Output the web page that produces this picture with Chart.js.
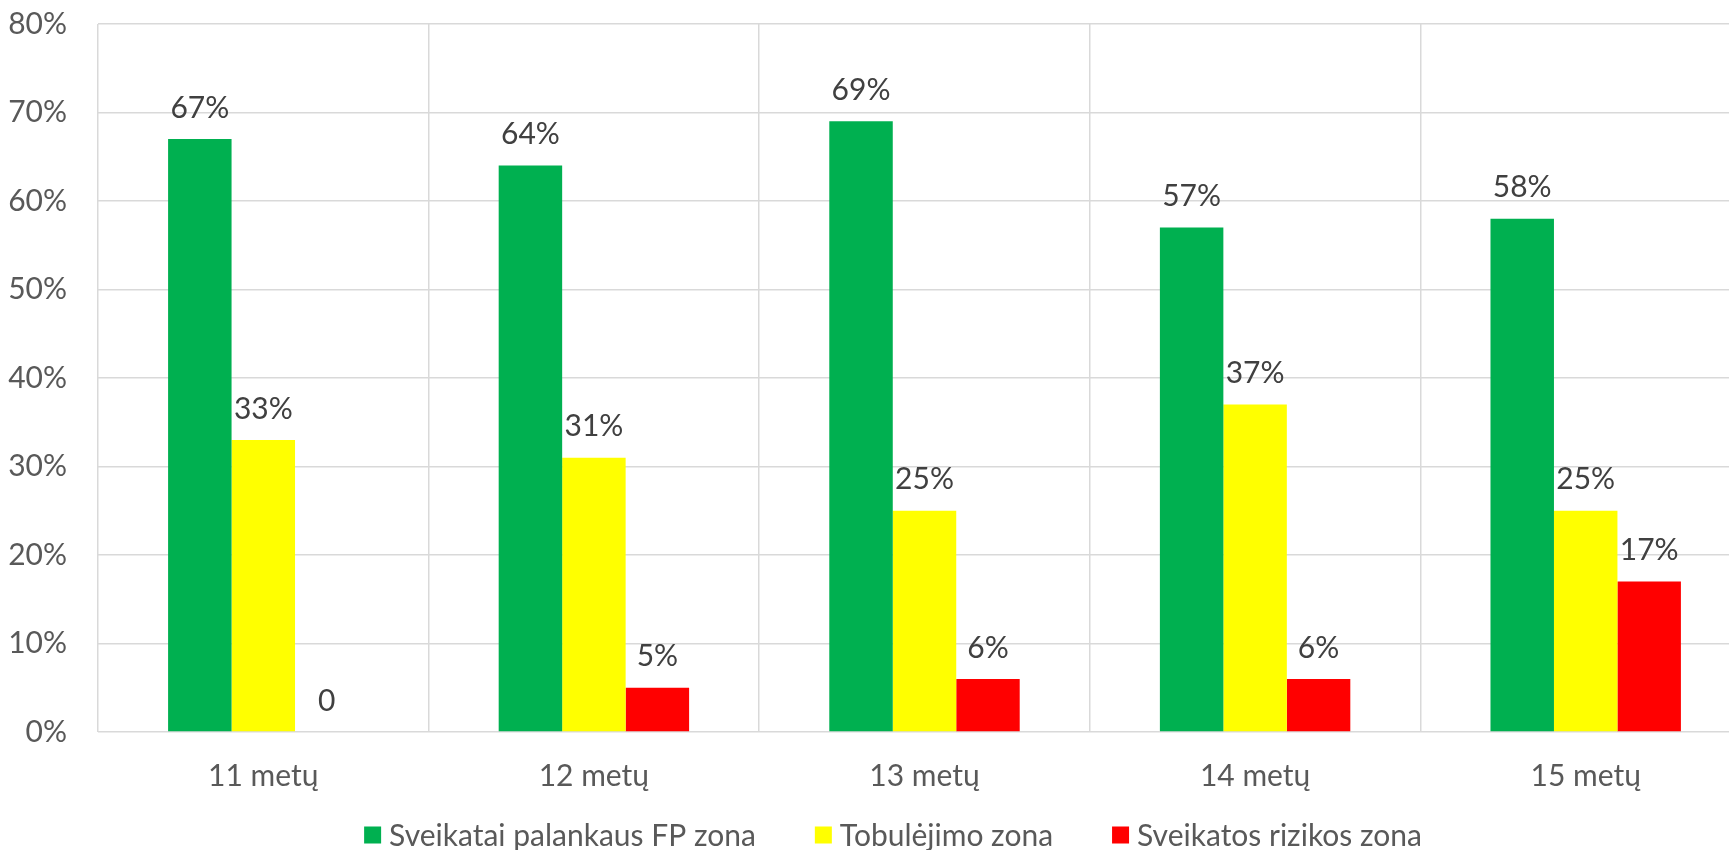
<!DOCTYPE html>
<html lang="lt">
<head>
<meta charset="utf-8">
<title>Fizinio pajėgumo zonos pagal amžių</title>
<script src="https://cdn.jsdelivr.net/npm/chart.js@4/dist/chart.umd.min.js"></script>
<style>
  html, body { margin: 0; padding: 0; background: #ffffff; overflow: hidden; }
  #wrap { width: 1760px; height: 850px; }
  canvas { display: block; }
</style>
</head>
<body>
<div id="wrap"><canvas id="chart" width="1760" height="850"></canvas></div>
<script>
// Amžiaus grupės
const categories = ['11 metų', '12 metų', '13 metų', '14 metų', '15 metų'];

// Mokinių dalis (%) kiekvienoje zonoje
const palankausZona = [67, 64, 69, 57, 58];
const tobulejimoZona = [33, 31, 25, 37, 25];
const rizikosZona = [0, 5, 6, 6, 17];

const seriesNames = ['Sveikatai palankaus FP zona', 'Tobulėjimo zona', 'Sveikatos rizikos zona'];
const seriesColors = ['#00b050', '#ffff00', '#ff0000'];

// Y ašies žymės (%)
const yTicks = [0, 10, 20, 30, 40, 50, 60, 70, 80];

const FONT = 'Lato, "Open Sans", "Noto Sans", sans-serif';
const FONT_SIZE = 30;
const GRID = '#d9d9d9';

// Reikšmių užrašai virš stulpelių
const valueLabels = {
  id: 'valueLabels',
  afterDatasetsDraw(chart) {
    const ctx = chart.ctx;
    ctx.save();
    ctx.font = FONT_SIZE + 'px ' + FONT;
    ctx.fillStyle = '#404040';
    ctx.textAlign = 'center';
    ctx.textBaseline = 'middle';
    chart.data.datasets.forEach((ds, di) => {
      const meta = chart.getDatasetMeta(di);
      meta.data.forEach((bar, i) => {
        const v = ds.data[i];
        const txt = v === 0 ? '0' : v + '%';
        ctx.fillText(txt, bar.x, bar.y - 31);
      });
    });
    ctx.restore();
  }
};

// Legenda apačioje
const bottomLegend = {
  id: 'bottomLegend',
  afterDraw(chart) {
    const ctx = chart.ctx;
    const box = 17, boxGap = 8, itemGap = 59;
    const cx = 893, cy = 835;
    ctx.save();
    ctx.font = FONT_SIZE + 'px ' + FONT;
    ctx.textBaseline = 'middle';
    ctx.textAlign = 'left';
    const items = chart.data.datasets.map(ds => ({
      label: ds.label,
      color: ds.backgroundColor,
      w: ctx.measureText(ds.label).width
    }));
    let total = 0;
    items.forEach((it, i) => {
      total += box + boxGap + it.w + (i < items.length - 1 ? itemGap : 0);
    });
    let x = cx - total / 2;
    items.forEach(it => {
      ctx.fillStyle = it.color;
      ctx.fillRect(x, cy - box / 2, box, box);
      x += box + boxGap;
      ctx.fillStyle = '#595959';
      ctx.fillText(it.label, x, cy + 1);
      x += it.w + itemGap;
    });
    ctx.restore();
  }
};

new Chart(document.getElementById('chart'), {
  type: 'bar',
  data: {
    labels: categories,
    datasets: [
      { label: seriesNames[0], data: palankausZona, backgroundColor: seriesColors[0] },
      { label: seriesNames[1], data: tobulejimoZona, backgroundColor: seriesColors[1] },
      { label: seriesNames[2], data: rizikosZona, backgroundColor: seriesColors[2] }
    ]
  },
  options: {
    responsive: false,
    animation: false,
    devicePixelRatio: 1,
    layout: { padding: { top: 24, right: 9, left: 0, bottom: 58 } },
    datasets: {
      bar: { categoryPercentage: 0.576, barPercentage: 1.0, borderWidth: 0 }
    },
    plugins: {
      legend: { display: false },
      tooltip: { enabled: false },
      title: { display: false }
    },
    scales: {
      x: {
        grid: { display: true, offset: true, color: GRID, lineWidth: 1.5, drawTicks: false },
        border: { display: false },
        ticks: {
          color: '#595959',
          font: { family: FONT, size: FONT_SIZE },
          padding: 26,
          maxRotation: 0
        },
        afterFit(scale) {
          scale.height = 60;
          scale.paddingLeft = 0;
          scale.paddingRight = 0;
        }
      },
      y: {
        min: 0,
        max: yTicks[yTicks.length - 1],
        afterBuildTicks(scale) { scale.ticks = yTicks.map(v => ({ value: v })); },
        grid: { color: GRID, lineWidth: 1.5, drawTicks: false },
        border: { display: false },
        ticks: {
          color: '#595959',
          font: { family: FONT, size: FONT_SIZE },
          padding: 31,
          callback: v => v + '%'
        },
        afterFit(scale) {
          scale.width = 98;
          scale.paddingTop = 0;
          scale.paddingBottom = 0;
        }
      }
    }
  },
  plugins: [valueLabels, bottomLegend]
});
</script>
</body>
</html>
